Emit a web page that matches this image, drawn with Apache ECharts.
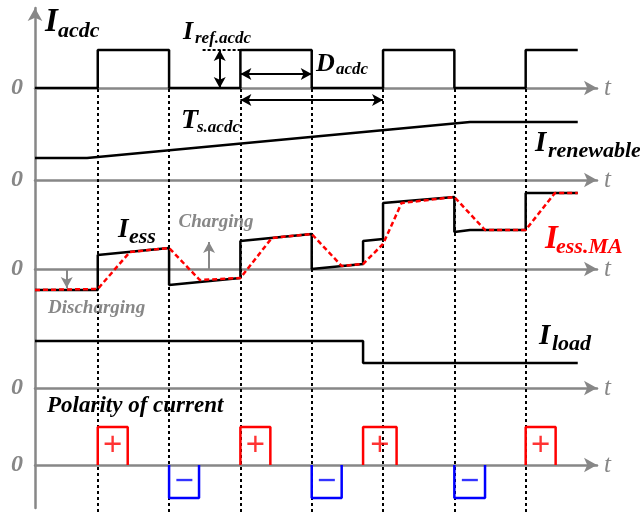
<!DOCTYPE html>
<html><head><meta charset="utf-8">
<script src="https://cdn.jsdelivr.net/npm/echarts@6/dist/echarts.min.js"></script>
<style>html,body{margin:0;padding:0;background:#fff}#c{width:640px;height:512px}</style>
</head><body><div id="c"></div>
<script>
// ---- data (time in switching periods) ----
const tMin = 0.12, tMax = 8.0;
const edges = [1, 2, 3, 4, 5, 6, 7];
// I_acdc
const acdcT = [0.12, 1, 2, 3, 4, 5, 6, 7, 7.73];
const acdcV = [0, 3.8, 0, 3.8, 0, 3.8, 0, 3.8, 3.8];
// I_renewable
const renT = [0.12, 0.85, 6.22, 7.73];
const renV = [2.2, 2.2, 5.8, 5.8];
// I_ess
const essT = [0.12, 1, 1, 2, 2, 3, 3, 4, 4, 4.72, 4.72, 5, 5, 6, 6, 6.22, 7, 7, 7.73];
const essV = [-2.1, -2.1, 1.4, 2.1, -1.6, -0.9, 2.8, 3.5, 0, 0.5, 2.8, 3.0, 6.6, 7.2, 3.7, 3.9, 3.9, 7.6, 7.6];
// I_ess.MA
const maT = [0.12, 1, 1.45, 2, 2.43, 3, 3.44, 4, 4.42, 4.72, 5, 5.26, 6, 6.43, 7, 7.41, 7.73];
const maV = [-2.1, -2.0, 1.7, 2.1, -1.1, -0.9, 3.1, 3.5, 0.3, 0.5, 2.5, 6.6, 7.2, 3.9, 3.9, 7.6, 7.6];
// I_load
const loadT = [0.12, 4.72, 7.73];
const loadV = [4.7, 2.5, 2.5];
// polarity of current
const posStart = [1, 3, 4.72, 7], posEnd = [1.42, 3.42, 5.19, 7.42];
const negStart = [2, 4, 6], negEnd = [2.42, 4.42, 6.43];
const posH = 3.8, negH = -3.3;
// annotation spans
const irefT = 2.71, irefDashFrom = 2.47;
const dSpan = [3, 4], dLevel = 1.4;
const tsSpan = [3, 5], tsLevel = -1.2;
const chargeT = 2.56, chargeTo = 2.7;
const dischargeT = 0.565, dischargeTo = -1.9;

// ---- styling ----
const GRAY = '#878787';
const SERIF = '"Liberation Serif", "Times New Roman", serif';
const zip = (a, b) => a.map((x, i) => [x, b[i]]);
const L = 35, R = 43;

const grids = [
  {left: L, right: R, top: 8, bottom: 4},     // 0 master vertical axis
  {left: L, right: R, top: 88, bottom: 0},    // 1 dashed guides (+ period arrow)
  {left: L, right: R, top: 40, bottom: 424},  // 2 I_acdc
  {left: L, right: R, top: 110, bottom: 332}, // 3 I_renewable
  {left: L, right: R, top: 186, bottom: 212}, // 4 I_ess
  {left: L, right: R, top: 330, bottom: 124}, // 5 I_load
  {left: L, right: R, top: 420, bottom: 7}    // 6 polarity
];
const yRanges = [[0, 1], [-42.4, 0], [0, 4.8], [0, 7], [-3.1, 8.3], [0, 5.8], [-4.0, 4.5]];

const xAxes = grids.map((g, i) => ({
  type: 'value', gridIndex: i, min: tMin, max: tMax,
  axisLine: {show: i >= 2, onZero: true, symbol: ['none', 'arrow'], symbolSize: [11, 13],
    lineStyle: {color: GRAY, width: 2.5}},
  axisTick: {show: false}, axisLabel: {show: false}, splitLine: {show: false},
  name: i >= 2 ? 't' : '', nameLocation: 'end', nameGap: 7,
  nameTextStyle: {color: GRAY, fontFamily: SERIF, fontStyle: 'italic', fontSize: 25, verticalAlign: 'middle'}
}));
const yAxes = grids.map((g, i) => ({
  type: 'value', gridIndex: i, min: yRanges[i][0], max: yRanges[i][1],
  axisLine: {show: i === 0, symbol: ['none', 'arrow'], symbolSize: [11, 13],
    lineStyle: {color: GRAY, width: 2.5}},
  axisTick: {show: false}, splitLine: {show: false},
  axisLabel: {show: i >= 2, customValues: [0], formatter: v => (v === 0 ? '0' : ''), margin: 12,
    color: GRAY, fontFamily: SERIF, fontStyle: 'italic', fontWeight: 'bold', fontSize: 24}
}));

const blackLine = {color: '#000', width: 2.5};
const series = [];
series.push({type: 'line', xAxisIndex: 0, yAxisIndex: 0, data: [], silent: true});
series.push({type: 'line', xAxisIndex: 1, yAxisIndex: 1, data: [], silent: true, z: 1,
  markLine: {silent: true, symbol: 'none', label: {show: false},
    lineStyle: {color: '#000', width: 2, type: [3, 3]},
    data: edges.map(x => ({xAxis: x}))}});
series.push({type: 'line', xAxisIndex: 1, yAxisIndex: 1, data: [], silent: true, z: 5,
  markLine: {silent: true, symbol: ['arrow', 'arrow'], symbolSize: [9, 11], label: {show: false},
    lineStyle: {color: '#000', width: 2, type: 'solid'},
    data: [[{coord: [tsSpan[0], tsLevel]}, {coord: [tsSpan[1], tsLevel]}]]}});
series.push({type: 'line', xAxisIndex: 2, yAxisIndex: 2, step: 'end', showSymbol: false, symbol: 'none',
  lineStyle: blackLine, data: zip(acdcT, acdcV), z: 5,
  markLine: {silent: true, symbol: ['arrow', 'arrow'], symbolSize: [9, 11], label: {show: false},
    lineStyle: {color: '#000', width: 2, type: 'solid'},
    data: [
      [{coord: [irefT, acdcV[1]]}, {coord: [irefT, 0]}],
      [{coord: [dSpan[0], dLevel]}, {coord: [dSpan[1], dLevel]}]
    ]}});
series.push({type: 'line', xAxisIndex: 2, yAxisIndex: 2, data: [], silent: true,
  markLine: {silent: true, symbol: 'none', label: {show: false},
    lineStyle: {color: '#000', width: 2, type: [3, 2]},
    data: [[{coord: [irefDashFrom, acdcV[1]]}, {coord: [acdcT[3], acdcV[1]]}]]}});
series.push({type: 'line', xAxisIndex: 3, yAxisIndex: 3, symbol: 'none', lineStyle: blackLine,
  data: zip(renT, renV), z: 5});
series.push({type: 'line', xAxisIndex: 4, yAxisIndex: 4, symbol: 'none', lineStyle: blackLine,
  data: zip(essT, essV), z: 5,
  markLine: {silent: true, symbol: ['none', 'arrow'], symbolSize: [9, 11], label: {show: false},
    lineStyle: {color: GRAY, width: 2, type: 'solid'},
    data: [
      [{coord: [chargeT, 0]}, {coord: [chargeT, chargeTo]}],
      [{coord: [dischargeT, 0]}, {coord: [dischargeT, dischargeTo]}]
    ]}});
series.push({type: 'line', xAxisIndex: 4, yAxisIndex: 4, symbol: 'none',
  lineStyle: {color: '#ff0000', width: 2.5, type: [5, 3]}, data: zip(maT, maV), z: 6});
series.push({type: 'line', xAxisIndex: 5, yAxisIndex: 5, step: 'end', symbol: 'none', lineStyle: blackLine,
  data: zip(loadT, loadV), z: 5});
function boxes(starts, ends, h, color, sign) {
  starts.forEach((s, i) => {
    const e = ends[i];
    series.push({type: 'line', xAxisIndex: 6, yAxisIndex: 6, symbol: 'none',
      lineStyle: {color: color, width: 2.5}, data: [[s, 0], [s, h], [e, h], [e, 0]], z: 5});
  });
  series.push({type: 'scatter', xAxisIndex: 6, yAxisIndex: 6, symbolSize: 1,
    itemStyle: {color: 'rgba(0,0,0,0)'}, z: 6,
    label: {show: true, position: 'inside', formatter: sign, color: color,
      fontFamily: '"Liberation Sans", Arial, sans-serif', fontSize: 33},
    data: starts.map((s, i) => [(s + ends[i]) / 2, h / 2])});
}
boxes(posStart, posEnd, posH, '#ff0000', '+');
boxes(negStart, negEnd, negH, '#0000ff', '\u2212');

// ---- text labels ----
function txt(text, x, y, size, color, opts) {
  opts = opts || {};
  return {type: 'text', x: x, y: y, z: 100, silent: true,
    style: {text: text, fill: color || '#000', fontFamily: SERIF, fontSize: size,
      fontStyle: 'italic', fontWeight: opts.weight || 'bold',
      textAlign: opts.align || 'left', textVerticalAlign: 'middle'}};
}
const graphics = [
  txt('I', 45, 22, 33), txt('acdc', 58, 31, 22),
  txt('I', 183, 32, 26), txt('ref.acdc', 195, 39, 17),
  txt('D', 316, 64, 26), txt('acdc', 336, 70, 17),
  txt('T', 181, 121, 28), txt('s.acdc', 197, 128, 17),
  txt('I', 535, 144, 29), txt('renewable', 548, 151, 22),
  txt('I', 118, 230, 27), txt('ess', 129, 237, 22),
  txt('Charging', 216, 222, 19, GRAY, {align: 'center'}),
  txt('Discharging', 48, 308, 19, GRAY),
  txt('I', 545, 239, 33, '#ff0000'), txt('ess.MA', 556, 247, 22, '#ff0000'),
  txt('I', 539, 337, 29), txt('load', 552, 344, 22),
  txt('Polarity of current', 47, 406, 23)
];

const chart = echarts.init(document.getElementById('c'), null, {renderer: 'canvas'});
chart.setOption({
  animation: false,
  backgroundColor: '#fff',
  grid: grids, xAxis: xAxes, yAxis: yAxes, series: series, graphic: graphics
});
</script></body></html>
